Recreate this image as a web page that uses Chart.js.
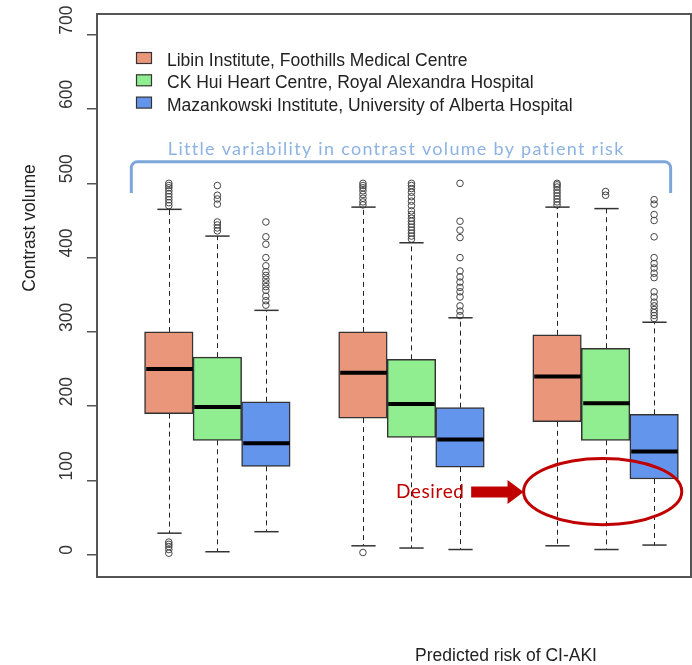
<!DOCTYPE html>
<html>
<head>
<meta charset="utf-8">
<script src="https://cdn.jsdelivr.net/npm/chart.js@4.4.1/dist/chart.umd.min.js"></script>
<style>
  html, body { margin: 0; padding: 0; background: #fff; overflow: hidden; }
  #wrap { width: 692px; height: 665px; position: relative; overflow: hidden; }
  #boxChart { display: block; }
</style>
</head>
<body>
<div id="wrap"><canvas id="boxChart"></canvas></div>
<script>
// hospital sites (series)
const sites = [
  'Libin Institute, Foothills Medical Centre',
  'CK Hui Heart Centre, Royal Alexandra Hospital',
  'Mazankowski Institute, University of Alberta Hospital'
];
// predicted risk groups (not labelled on the axis in the original)
const riskGroups = ['Low', 'Medium', 'High'];

// [lower whisker, Q1, median, Q3, upper whisker] per risk group
const libinStats = [[29, 190, 250, 300, 465], [12, 184, 245, 300, 468], [12, 179, 240, 296, 468]];
const ckHuiStats = [[4, 154, 199, 266, 429], [9, 158, 203, 263, 420], [7, 154, 204, 278, 466]];
const mazStats   = [[31, 119, 150, 206, 329], [7, 118, 155, 198, 319], [13, 102, 139, 189, 313]];

// outliers per risk group
const libinOut = [
  [470, 474, 478, 482, 486, 490, 494, 497, 500, 2, 7, 11, 14, 17],
  [471, 475, 480, 485, 490, 494, 497, 500, 3],
  [471, 475, 479, 483, 487, 491, 495, 498, 500]
];
const ckHuiOut = [
  [436, 440, 444, 448, 472, 479, 484, 497],
  [425, 429, 433, 437, 441, 445, 449, 453, 458, 463, 470, 476, 482, 488, 493, 497, 500],
  [484, 489]
];
const mazOut = [
  [336, 342, 348, 356, 361, 366, 371, 376, 381, 389, 400, 418, 428, 448],
  [322, 328, 335, 347, 354, 360, 367, 374, 382, 400, 427, 437, 449, 500],
  [318, 322, 326, 330, 335, 340, 347, 354, 373, 379, 386, 392, 400, 428, 450, 458, 472, 478]
];

const yTicks = [0, 100, 200, 300, 400, 500, 600, 700];

const statsBySite = [libinStats, ckHuiStats, mazStats];
const outBySite = [libinOut, ckHuiOut, mazOut];
const fills = ['#E9967A', '#90EE90', '#6495ED'];

// box slot on the x scale: groups of three with an empty slot between them
const pos = (g, s) => g * 4 + s + 1;

const datasets = [];
sites.forEach((name, s) => {
  datasets.push({
    type: 'bar',
    label: name,
    data: statsBySite[s].map((st, g) => ({ x: pos(g, s), y: [st[1], st[3]] })),
    backgroundColor: fills[s],
    borderColor: '#333',
    borderWidth: 1.5,
    borderSkipped: false,
    grouped: false,
    categoryPercentage: 1,
    barPercentage: 1
  });
});
sites.forEach((name, s) => {
  datasets.push({
    type: 'scatter',
    label: name + ' (outliers)',
    data: outBySite[s].flatMap((arr, g) => arr.map(v => ({ x: pos(g, s), y: v }))),
    pointRadius: 3.3,
    pointBorderWidth: 1,
    pointBorderColor: '#444',
    pointBackgroundColor: 'rgba(0,0,0,0)'
  });
});

const ARIAL = '"Liberation Sans", Arial, sans-serif';
const CALIBRI = 'Lato, "Open Sans", sans-serif';

// draw text stretched by letter spacing to the width it has in the original
function fitText(ctx, text, x, y, width) {
  ctx.letterSpacing = '0px';
  const w = ctx.measureText(text).width;
  ctx.letterSpacing = ((width - w) / (text.length - 1)).toFixed(2) + 'px';
  ctx.fillText(text, x, y);
  ctx.letterSpacing = '0px';
}

const boxExtras = {
  id: 'boxExtras',
  afterDatasetsDraw(chart) {
    const { ctx, scales: { x, y } } = chart;
    const unit = x.getPixelForValue(1) - x.getPixelForValue(0);
    const line = (x1, y1, x2, y2) => { ctx.beginPath(); ctx.moveTo(x1, y1); ctx.lineTo(x2, y2); ctx.stroke(); };
    ctx.save();
    statsBySite.forEach((stats, s) => {
      stats.forEach((st, g) => {
        const cx = Math.round(x.getPixelForValue(pos(g, s))) + 0.5;
        // whiskers
        ctx.strokeStyle = '#222';
        ctx.lineWidth = 1;
        ctx.setLineDash([5, 4]);
        line(cx, y.getPixelForValue(st[3]), cx, y.getPixelForValue(st[4]));
        line(cx, y.getPixelForValue(st[1]), cx, y.getPixelForValue(st[0]));
        ctx.setLineDash([]);
        // staples
        ctx.strokeStyle = '#333';
        ctx.lineWidth = 1.5;
        line(cx - unit / 4, y.getPixelForValue(st[4]), cx + unit / 4, y.getPixelForValue(st[4]));
        line(cx - unit / 4, y.getPixelForValue(st[0]), cx + unit / 4, y.getPixelForValue(st[0]));
        // median
        ctx.strokeStyle = '#000';
        ctx.lineWidth = 4;
        line(cx - unit / 2 + 1, y.getPixelForValue(st[2]), cx + unit / 2 - 1, y.getPixelForValue(st[2]));
      });
    });
    ctx.restore();
  },
  afterDraw(chart) {
    const { ctx, chartArea: a, scales: { x, y } } = chart;
    const px = v => x.getPixelForValue(v);
    const py = v => y.getPixelForValue(v);
    ctx.save();

    // plot frame
    ctx.strokeStyle = '#555';
    ctx.lineWidth = 2;
    ctx.strokeRect(a.left, a.top, a.right - a.left, a.bottom - a.top);

    // y tick labels, rotated like R's default
    ctx.fillStyle = '#333';
    ctx.font = '17.5px ' + ARIAL;
    ctx.textAlign = 'left';
    ctx.textBaseline = 'alphabetic';
    yTicks.forEach(v => {
      ctx.save();
      ctx.translate(72, py(v));
      ctx.rotate(-Math.PI / 2);
      ctx.fillText(String(v), 0, 0);
      ctx.restore();
    });

    // axis titles
    ctx.fillStyle = '#222';
    ctx.save();
    ctx.translate(35, 228);
    ctx.rotate(-Math.PI / 2);
    ctx.textAlign = 'center';
    ctx.fillText('Contrast volume', 0, 0);
    ctx.restore();
    ctx.textAlign = 'center';
    ctx.fillText('Predicted risk of CI-AKI', 506, 661);

    // legend
    const rows = [66, 88.3, 110.6];
    sites.forEach((name, s) => {
      ctx.fillStyle = fills[s];
      ctx.fillRect(136.5, rows[s] - 13.5, 15, 11);
      ctx.strokeStyle = '#333';
      ctx.lineWidth = 1.2;
      ctx.strokeRect(136.5, rows[s] - 13.5, 15, 11);
      ctx.fillStyle = '#222';
      ctx.textAlign = 'left';
      ctx.fillText(name, 167, rows[s]);
    });

    // bracket and note
    const bl = px(0.227), br = px(11.34), bt = py(529), bb = py(487), r = 6;
    ctx.strokeStyle = '#7EA6DB';
    ctx.lineWidth = 3;
    ctx.lineJoin = 'round';
    ctx.beginPath();
    ctx.moveTo(bl, bb);
    ctx.arcTo(bl, bt, bl + r, bt, r);
    ctx.arcTo(br, bt, br, bt + r, r);
    ctx.lineTo(br, bb);
    ctx.stroke();
    ctx.fillStyle = '#8DB3E2';
    ctx.font = '18px ' + CALIBRI;
    ctx.textAlign = 'left';
    fitText(ctx, 'Little variability in contrast volume by patient risk', px(0.98), py(538), 455);

    // "Desired" arrow and ellipse
    const red = '#C00000';
    ctx.fillStyle = red;
    ctx.font = '19px ' + CALIBRI;
    fitText(ctx, 'Desired', px(5.68), py(76), 68);
    const ay = py(84.5), ax0 = px(7.23), ah = px(7.98), ax1 = px(8.31);
    ctx.beginPath();
    ctx.moveTo(ax0, ay - 5.5);
    ctx.lineTo(ah, ay - 5.5);
    ctx.lineTo(ah, ay - 12);
    ctx.lineTo(ax1, ay);
    ctx.lineTo(ah, ay + 12);
    ctx.lineTo(ah, ay + 5.5);
    ctx.lineTo(ax0, ay + 5.5);
    ctx.closePath();
    ctx.fill();
    ctx.strokeStyle = red;
    ctx.lineWidth = 3;
    ctx.beginPath();
    ctx.ellipse(px(9.94), py(85), px(9.94 + 1.63) - px(9.94), py(85 - 44.5) - py(85), 0, 0, Math.PI * 2);
    ctx.stroke();

    ctx.restore();
  }
};

new Chart(document.getElementById('boxChart'), {
  type: 'bar',
  data: { datasets },
  options: {
    responsive: true,
    maintainAspectRatio: false,
    animation: false,
    layout: { autoPadding: false, padding: { top: 14, right: 1, bottom: 88, left: 0 } },
    plugins: { legend: { display: false }, tooltip: { enabled: false } },
    scales: {
      x: {
        type: 'linear',
        display: false,
        offset: false,
        min: -0.48,
        max: 11.76,
        ticks: { stepSize: 1 }
      },
      y: {
        min: -30,
        max: 728,
        afterBuildTicks: scale => { scale.ticks = yTicks.map(v => ({ value: v })); },
        afterFit: scale => { scale.width = 97; },
        ticks: { display: false },
        border: { display: false },
        grid: { drawOnChartArea: false, drawTicks: true, tickLength: 10, color: '#555', lineWidth: 1.5 }
      }
    }
  },
  plugins: [boxExtras]
});
</script>
</body>
</html>
